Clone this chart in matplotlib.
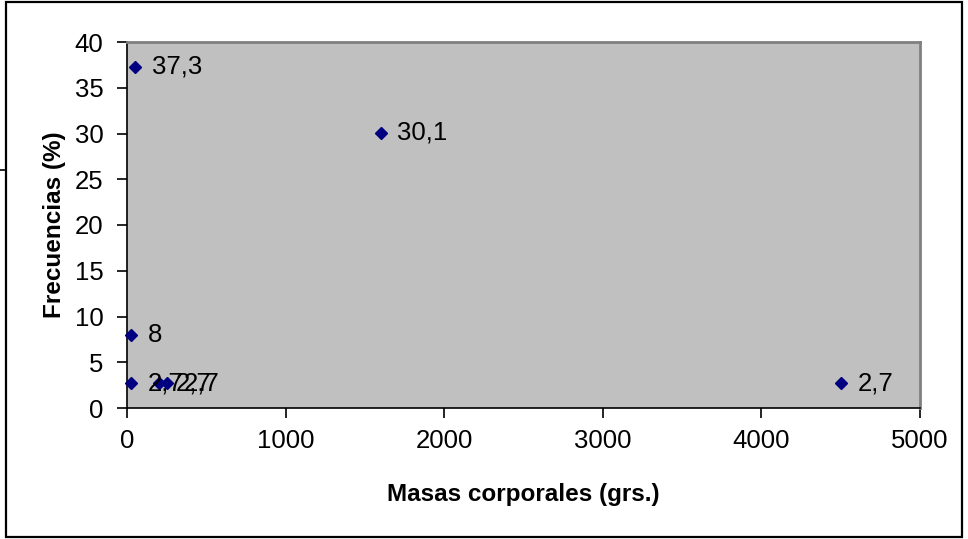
import matplotlib
matplotlib.use("Agg")
import matplotlib.pyplot as plt
from matplotlib.lines import Line2D
from matplotlib.patches import Rectangle

plt.rcParams['font.family'] = ['Liberation Sans', 'DejaVu Sans']

# body mass (grams) vs frequency (%)
masas = [50, 1600, 25, 25, 200, 250, 4500]
frecuencias = [37.3, 30.1, 8, 2.7, 2.7, 2.7, 2.7]
etiquetas = ["37,3", "30,1", "8", "2,7", "2,7", "2,7", "2,7"]

fig = plt.figure(figsize=(9.68, 5.39), dpi=100)
ax = fig.add_axes([127 / 968, 1 - 408 / 539, 793 / 968, 366 / 539])
ax.set_facecolor("#C0C0C0")

ax.plot(masas, frecuencias, linestyle="none", marker="D", markersize=6.5,
        color="#000080", clip_on=False, zorder=3)
for x, y, t in zip(masas, frecuencias, etiquetas):
    ax.annotate(t, (x, y), xytext=(12, 0), textcoords="offset points",
                va="center", ha="left", fontsize=18.5, color="black")

ax.set_xlim(0, 5000)
ax.set_ylim(0, 40)
ax.set_xticks(range(0, 5001, 1000))
ax.set_yticks(range(0, 41, 5))
ax.tick_params(direction="out", length=7, width=1.2, labelsize=18.5)
ax.tick_params(axis="y", pad=10)
ax.tick_params(axis="x", pad=8)

for side in ("top", "right"):
    ax.spines[side].set_color("#808080")
    ax.spines[side].set_linewidth(2)
for side in ("left", "bottom"):
    ax.spines[side].set_color("black")
    ax.spines[side].set_linewidth(1.2)

ax.set_xlabel("Masas corporales (grs.)", fontsize=17.5, fontweight="bold", labelpad=22)
ax.set_ylabel("Frecuencias (%)", fontsize=17.5, fontweight="bold", labelpad=6)

# outer chart frame
fig.patches.append(Rectangle((6 / 968, 2 / 539), 956 / 968, 535 / 539,
                             transform=fig.transFigure, fill=False,
                             edgecolor="black", linewidth=1.6))
fig.lines.append(Line2D([0, 6 / 968], [1 - 170 / 539, 1 - 170 / 539],
                        transform=fig.transFigure, color="black", linewidth=1.2))

fig.savefig("out.png", dpi=100)
